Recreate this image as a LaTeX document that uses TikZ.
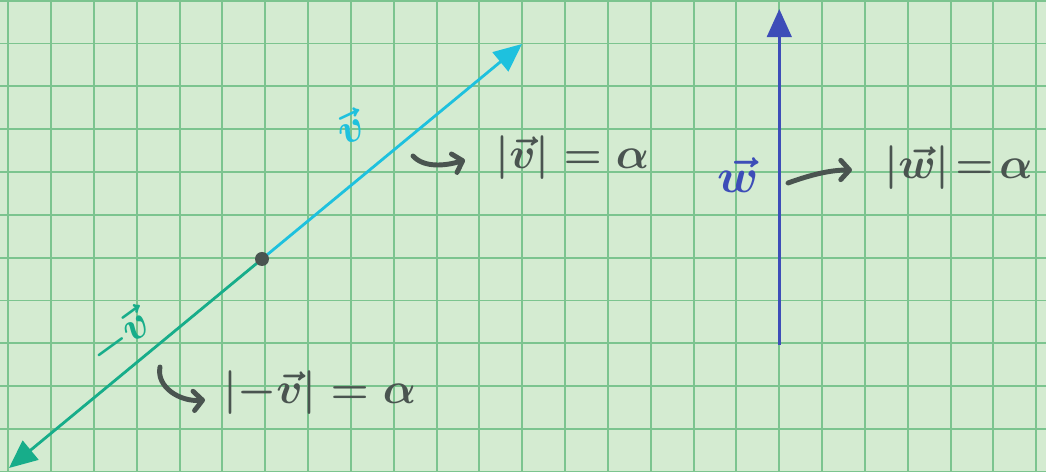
\documentclass[tikz,border=0pt]{standalone}
\usetikzlibrary{arrows.meta}
\definecolor{paper}{HTML}{D4EBD1}
\definecolor{gridgreen}{HTML}{7CC48F}
\definecolor{vcyan}{HTML}{1EC1DE}
\definecolor{vgreen}{HTML}{17AD8A}
\definecolor{wblue}{HTML}{3D4DB8}
\definecolor{ink}{HTML}{4A5450}
\begin{document}
\begin{tikzpicture}[x=0.02cm,y=-0.02cm]
	\tikzstyle{every node}=[font=\fontsize{24.88pt}{30pt}\selectfont\boldmath, inner sep=0pt]
	\tikzstyle{gridline}=[draw=gridgreen, line width=1.1pt]
	\tikzstyle{vector}=[line width=1.6pt, -{Triangle[length=16pt, width=14pt]}]
	\tikzstyle{hook}=[draw=ink, line width=2.8pt, line cap=round, -{Straight Barb[length=5pt, width=11pt, round]}]
	\tikzstyle{norm}=[anchor=west, text=ink]
	
	\fill[paper] (0,0) rectangle (1046,472);
	\useasboundingbox (0,0) rectangle (1046,472);
	\foreach \gx in {0,...,24} \draw[gridline] ({8.3+42.83*\gx},0) -- ({8.3+42.83*\gx},472);
	\foreach \gy in {0,...,11} \draw[gridline] (0,{0.7+42.83*\gy}) -- (1046,{0.7+42.83*\gy});
	
	\coordinate (origin) at (262,259);
	\coordinate (vtip) at (522,44);
	\coordinate (nvtip) at (9,468);
	\coordinate (wtail) at (779.3,345);
	\coordinate (wtip) at (779.3,9);
	
	\draw[vector, draw=vgreen, vgreen] (origin) -- (nvtip);
	\draw[vector, draw=vcyan, vcyan] (origin) -- (vtip);
	\draw[vector, draw=wblue, wblue] (wtail) -- (wtip);
	\fill[ink] (origin) circle (7);
	
	\node[text=vcyan, rotate=25] (vlabel) at (350,127) {$\vec{v}$};
	\node[text=wblue, scale=1.1] (wlabel) at (738,175) {$\vec{w}$};
	\node[text=vgreen, rotate=36] (nvlabel) at (120,338) {$-\vec{v}$};
	
	\node[norm] (vnorm) at (495,158) {$|\vec{v}| = \alpha$};
	\node[norm] (wnorm) at (884,168) {$|\vec{w}|\!=\!\alpha$};
	\node[norm] (nvnorm) at (223,393) {$|{-}\vec{v}| = \alpha$};
	
	\coordinate (vhook) at (413,156);
	\coordinate (vhookend) at (465,160);
	\coordinate (whook) at (788,183);
	\coordinate (whookend) at (852,170);
	\coordinate (nvhook) at (160,367);
	\coordinate (nvhookend) at (205,400);
	
	\draw[hook] (vhook) .. controls (424,168) and (445,166) .. (vhookend);
	\draw[hook] (whook) .. controls (810,175) and (830,170) .. (whookend);
	\draw[hook] (nvhook) .. controls (156,387) and (180,402) .. (nvhookend);
	
\end{tikzpicture}
\end{document}
